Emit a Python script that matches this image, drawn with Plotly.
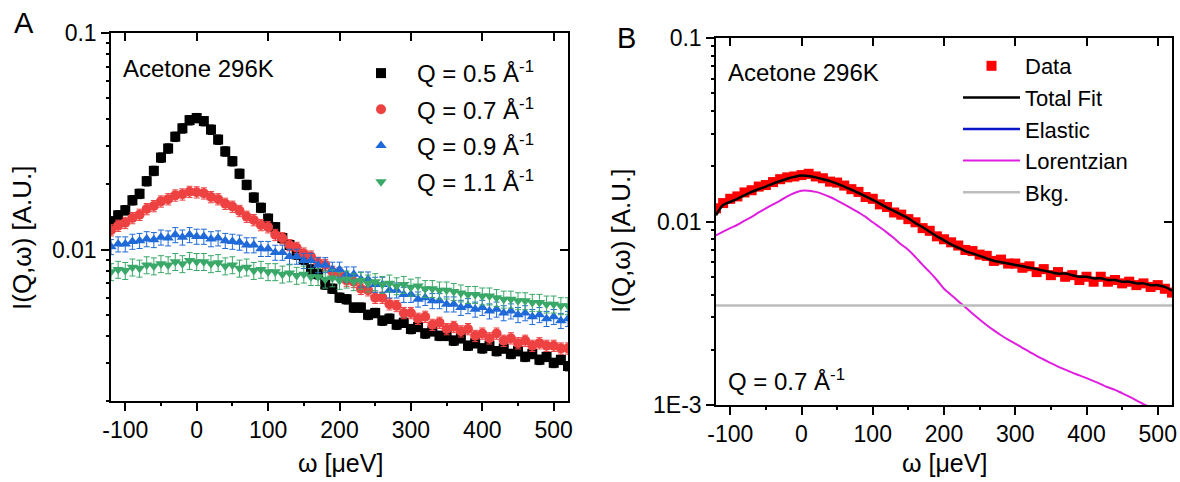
import math
import plotly.graph_objects as go

# ---------------- data ----------------
omega = [-120, -110, -100, -90, -80, -70, -60, -50, -40, -30,
         -20, -10, 0, 10, 20, 30, 40, 50, 60, 70,
         80, 90, 100, 110, 120, 130, 140, 150, 160, 170,
         180, 190, 200, 210, 220, 230, 240, 250, 260, 270,
         280, 290, 300, 310, 320, 330, 340, 350, 360, 370,
         380, 390, 400, 410, 420, 430, 440, 450, 460, 470,
         480, 490, 500, 510, 520]

# Panel A: I(Q,w) for several Q
q05 = [0.0135, 0.0144, 0.0152, 0.0169, 0.0181, 0.0207, 0.0231, 0.0266, 0.0293, 0.0332,
       0.0363, 0.0396, 0.0405, 0.0392, 0.0358, 0.0322, 0.0284, 0.0256, 0.0224, 0.0199,
       0.0174, 0.0156, 0.0139, 0.0127, 0.0113, 0.0105, 0.0095, 0.0090, 0.0081, 0.0077,
       0.0069, 0.0066, 0.0060, 0.0059, 0.0054, 0.0054, 0.0050, 0.0051, 0.0047, 0.0048,
       0.0045, 0.0046, 0.0043, 0.0044, 0.0041, 0.0042, 0.0040, 0.0040, 0.0038, 0.0039,
       0.0036, 0.0037, 0.0035, 0.0036, 0.0034, 0.0035, 0.0033, 0.0034, 0.0032, 0.0033,
       0.0031, 0.0032, 0.0030, 0.0031, 0.0029]
q07 = [0.0123, 0.0129, 0.0133, 0.0140, 0.0145, 0.0154, 0.0159, 0.0167, 0.0171, 0.0178,
       0.0180, 0.0185, 0.0184, 0.0182, 0.0175, 0.0171, 0.0163, 0.0158, 0.0151, 0.0142,
       0.0137, 0.0130, 0.0127, 0.0117, 0.0113, 0.0105, 0.0102, 0.0096, 0.0093, 0.0087,
       0.0085, 0.0079, 0.0078, 0.0072, 0.0071, 0.0066, 0.0065, 0.0060, 0.0060, 0.0056,
       0.0055, 0.0051, 0.0051, 0.0048, 0.0049, 0.0045, 0.0046, 0.0043, 0.0044, 0.0042,
       0.0043, 0.0040, 0.0041, 0.0039, 0.0041, 0.0038, 0.0039, 0.0037, 0.0038, 0.0036,
       0.0037, 0.0036, 0.0036, 0.0035, 0.0035]
q09 = [0.0103, 0.0106, 0.0106, 0.0109, 0.0110, 0.0112, 0.0111, 0.0114, 0.0113, 0.0117,
       0.0114, 0.0117, 0.0115, 0.0115, 0.0112, 0.0113, 0.0110, 0.0109, 0.0108, 0.0105,
       0.0105, 0.0101, 0.0101, 0.0097, 0.0097, 0.0093, 0.0093, 0.0089, 0.0089, 0.0085,
       0.0085, 0.0081, 0.0081, 0.0077, 0.0077, 0.0073, 0.0073, 0.0069, 0.0069, 0.0065,
       0.0065, 0.0062, 0.0062, 0.0059, 0.0060, 0.0058, 0.0058, 0.0056, 0.0056, 0.0054,
       0.0055, 0.0053, 0.0054, 0.0052, 0.0053, 0.0051, 0.0052, 0.0050, 0.0051, 0.0049,
       0.0050, 0.0048, 0.0049, 0.0047, 0.0048]
q11 = [0.0079, 0.0081, 0.0080, 0.0083, 0.0082, 0.0085, 0.0084, 0.0086, 0.0085, 0.0088,
       0.0086, 0.0089, 0.0088, 0.0088, 0.0086, 0.0087, 0.0084, 0.0085, 0.0082, 0.0083,
       0.0080, 0.0081, 0.0079, 0.0079, 0.0077, 0.0078, 0.0076, 0.0077, 0.0075, 0.0075,
       0.0073, 0.0074, 0.0072, 0.0073, 0.0071, 0.0072, 0.0070, 0.0071, 0.0069, 0.0070,
       0.0068, 0.0069, 0.0067, 0.0068, 0.0066, 0.0066, 0.0065, 0.0065, 0.0064, 0.0063,
       0.0062, 0.0062, 0.0061, 0.0061, 0.0060, 0.0059, 0.0059, 0.0058, 0.0058, 0.0057,
       0.0057, 0.0056, 0.0056, 0.0055, 0.0055]
series_names_A = ["Q = 0.5 Å<sup>-1</sup>", "Q = 0.7 Å<sup>-1</sup>",
                  "Q = 0.9 Å<sup>-1</sup>", "Q = 1.1 Å<sup>-1</sup>"]
error_pct_A = [5, 6, 8, 9]

# Panel B: Q = 0.7 fit
data_B = [0.0118, 0.0126, 0.0133, 0.0137, 0.0144, 0.0148, 0.0155, 0.0158, 0.0164, 0.0170,
          0.0174, 0.0176, 0.0179, 0.0182, 0.0176, 0.0172, 0.0165, 0.0163, 0.0157, 0.0150,
          0.0145, 0.0136, 0.0133, 0.0124, 0.0120, 0.0112, 0.0109, 0.0103, 0.0099, 0.0092,
          0.0089, 0.0083, 0.0080, 0.0077, 0.0074, 0.0070, 0.0069, 0.0066, 0.0065, 0.0061,
          0.0062, 0.0059, 0.0059, 0.0056, 0.0057, 0.0053, 0.0055, 0.0051, 0.0053, 0.0050,
          0.0051, 0.0048, 0.0050, 0.0047, 0.0050, 0.0047, 0.0048, 0.0046, 0.0047, 0.0045,
          0.0046, 0.0044, 0.0045, 0.0043, 0.0041]
total_fit = [0.0108, 0.0123, 0.0128, 0.0133, 0.0139, 0.0145, 0.0150, 0.0155, 0.0161, 0.0166,
             0.0171, 0.0175, 0.0178, 0.0177, 0.0174, 0.0170, 0.0166, 0.0161, 0.0155, 0.0149,
             0.0143, 0.0137, 0.0131, 0.0125, 0.0119, 0.0114, 0.0109, 0.0104, 0.0098, 0.0093,
             0.0088, 0.0083, 0.0079, 0.0075, 0.0072, 0.0069, 0.0067, 0.0065, 0.0063, 0.0061,
             0.0060, 0.0059, 0.0058, 0.0057, 0.0056, 0.0055, 0.0054, 0.0053, 0.0052, 0.0052,
             0.0051, 0.0050, 0.0050, 0.0049, 0.0049, 0.0048, 0.0048, 0.0047, 0.0047, 0.0046,
             0.0046, 0.0045, 0.0045, 0.0044, 0.0042]
lorentzian = [0.0084, 0.0088, 0.0092, 0.0096, 0.0101, 0.0106, 0.0112, 0.0118, 0.0124, 0.0130,
              0.0137, 0.0143, 0.0147, 0.0147, 0.0145, 0.0141, 0.0136, 0.0130, 0.0124, 0.0118,
              0.0112, 0.0106, 0.0099, 0.0093, 0.0087, 0.0081, 0.0075, 0.0070, 0.0064, 0.0058,
              0.0053, 0.0048, 0.0043, 0.00398, 0.00368, 0.00341, 0.00315, 0.00292, 0.00272, 0.00255,
              0.00240, 0.00227, 0.00216, 0.00205, 0.00195, 0.00185, 0.00177, 0.00169, 0.00162, 0.00156,
              0.00150, 0.00145, 0.00140, 0.00135, 0.00130, 0.00125, 0.00121, 0.00116, 0.00111, 0.00106,
              0.00101, 0.00097, 0.00093, 0.00089, 0.00086]
edge_omega = [-120, 520]
elastic = [0.00001, 0.00001]
background = [0.00348, 0.00348]

x_ticks = [-100, 0, 100, 200, 300, 400, 500]
x_ticktext = ["-100", "0", "100", "200", "300", "400", "500"]
x_minor = [-50, 50, 150, 250, 350, 450]
y_ticks_A = [0.01, 0.1]
y_ticktext_A = ["0.01", "0.1"]
y_ticks_B = [0.001, 0.01, 0.1]
y_ticktext_B = ["1E-3", "0.01", "0.1"]
y_minor = [0.002, 0.003, 0.004, 0.005, 0.006, 0.007, 0.008, 0.009,
           0.02, 0.03, 0.04, 0.05, 0.06, 0.07, 0.08, 0.09]

# ---------------- figure ----------------
W, H = 1180, 482
FONT = "Liberation Sans, Arial, sans-serif"


def px_x(p):
    return p / W


def px_y(p):
    return 1 - p / H


domA_x = [px_x(111), px_x(568)]
domA_y = [px_y(401), px_y(33)]
domB_x = [px_x(716), px_x(1172)]
domB_y = [px_y(405), px_y(38)]

fig = go.Figure()

colorsA = ["#000000", "#ee4242", "#1f6ad8", "#3aa868"]
symbolsA = ["square", "circle", "triangle-up", "triangle-down"]
for name, vals, col, sym, ep in zip(series_names_A, [q05, q07, q09, q11], colorsA, symbolsA, error_pct_A):
    fig.add_trace(go.Scatter(
        x=omega, y=vals, mode="markers", name=name,
        marker=dict(symbol=sym, size=10, color=col, line=dict(width=0)),
        error_y=dict(type="percent", value=ep, color=col, thickness=1, width=3),
        xaxis="x", yaxis="y", legend="legend", legendgroup=name))

fig.add_trace(go.Scatter(
    x=omega, y=data_B, mode="markers", name="Data",
    marker=dict(symbol="square", size=10, color="#ff0000", line=dict(width=0)),
    error_y=dict(type="percent", value=5, color="#ff0000", thickness=1, width=3),
    xaxis="x2", yaxis="y2", legend="legend2"))
fig.add_trace(go.Scatter(
    x=omega, y=total_fit, mode="lines", name="Total Fit",
    line=dict(color="#000000", width=2.5, shape="spline"),
    xaxis="x2", yaxis="y2", legend="legend2"))
fig.add_trace(go.Scatter(
    x=edge_omega, y=elastic, mode="lines", name="Elastic",
    line=dict(color="#0a14c8", width=2.5),
    xaxis="x2", yaxis="y2", legend="legend2"))
fig.add_trace(go.Scatter(
    x=omega, y=lorentzian, mode="lines", name="Lorentzian",
    line=dict(color="#e01ee0", width=2, shape="spline"),
    xaxis="x2", yaxis="y2", legend="legend2"))
fig.add_trace(go.Scatter(
    x=edge_omega, y=background, mode="lines", name="Bkg.",
    line=dict(color="#bdbdbd", width=2.5),
    xaxis="x2", yaxis="y2", legend="legend2"))

# invisible companions for the frame subplots that carry the minor and top/right ticks
frame_pairs = [("x3", "y3", q05), ("x4", "y4", data_B), ("x5", "y5", q05), ("x6", "y6", data_B)]
for xa, ya, yv in frame_pairs:
    fig.add_trace(go.Scatter(x=omega[:1], y=yv[:1], xaxis=xa, yaxis=ya, mode="markers",
                             marker=dict(opacity=0, size=1), showlegend=False, hoverinfo="skip"))

tickfont = dict(family=FONT, size=23, color="black")
xr = [-120, 520]
rA = [math.log10(0.002), -1]
rB = [-3, -1]


def xaxis(dom, anchor, side="bottom", labels=True, line=True, vals=x_ticks, text=x_ticktext, length=8):
    tdir = "outside" if side == "bottom" else "inside"
    return dict(domain=dom, anchor=anchor, range=xr, autorange=False,
                tickmode="array", tickvals=vals, ticktext=text,
                ticks=tdir, ticklen=length, tickwidth=2, tickcolor="black",
                showline=line, mirror=line, linewidth=1.5, linecolor="black",
                showgrid=False, zeroline=False, tickfont=tickfont, automargin=False,
                showticklabels=labels, side=side, fixedrange=True)


def yaxis(dom, anchor, rng, vals, text, side="left", labels=True, line=True, length=8):
    tdir = "outside" if side == "left" else "inside"
    return dict(domain=dom, anchor=anchor, type="log", range=rng, autorange=False,
                tickmode="array", tickvals=vals, ticktext=text,
                ticks=tdir, ticklen=length, tickwidth=2, tickcolor="black",
                showline=line, mirror=line, linewidth=1.5, linecolor="black",
                showgrid=False, zeroline=False, tickfont=tickfont, automargin=False,
                showticklabels=labels, side=side, fixedrange=True)


blank = [""] * len(y_minor)
blank_x = [""] * len(x_minor)

fig.update_layout(
    width=W, height=H, margin=dict(l=0, r=0, t=0, b=0, pad=0),
    paper_bgcolor="white", plot_bgcolor="rgba(0,0,0,0)",
    font=dict(family=FONT, size=22, color="black"),
    # main axes: labels + outward major ticks
    xaxis=xaxis(domA_x, "y"),
    yaxis=yaxis(domA_y, "x", rA, y_ticks_A, y_ticktext_A),
    xaxis2=xaxis(domB_x, "y2"),
    yaxis2=yaxis(domB_y, "x2", rB, y_ticks_B, y_ticktext_B),
    # frame subplots: inward major ticks on top/right
    xaxis3=xaxis(domA_x, "y3", side="top", labels=False, line=False),
    yaxis3=yaxis(domA_y, "x3", rA, y_ticks_A, y_ticktext_A, side="right", labels=False, line=False),
    xaxis4=xaxis(domB_x, "y4", side="top", labels=False, line=False),
    yaxis4=yaxis(domB_y, "x4", rB, y_ticks_B, y_ticktext_B, side="right", labels=False, line=False),
    # minor-tick subplots (outward bottom/left)
    xaxis5=xaxis(domA_x, "y5", labels=False, line=False, vals=x_minor, text=blank_x, length=4),
    yaxis5=yaxis(domA_y, "x5", rA, y_minor, blank, labels=False, line=False, length=4),
    xaxis6=xaxis(domB_x, "y6", labels=False, line=False, vals=x_minor, text=blank_x, length=4),
    yaxis6=yaxis(domB_y, "x6", rB, y_minor, blank, labels=False, line=False, length=4),
    legend=dict(x=px_x(345), y=px_y(51), xanchor="left", yanchor="top",
                bgcolor="rgba(0,0,0,0)", font=dict(family=FONT, size=24),
                tracegroupgap=2, itemwidth=62),
    legend2=dict(x=px_x(958), y=px_y(45), xanchor="left", yanchor="top",
                 bgcolor="rgba(0,0,0,0)", font=dict(family=FONT, size=22),
                 tracegroupgap=0, itemwidth=57),
    showlegend=True,
)

ann = []


def add_text(text, x, y, size, xanchor="left", angle=0, family=FONT):
    ann.append(dict(text=text, x=px_x(x), y=px_y(y), xref="paper", yref="paper",
                    xanchor=xanchor, yanchor="middle", showarrow=False, textangle=angle,
                    font=dict(family=family, size=size, color="black")))


add_text("A", 12, 23, 29)
add_text("B", 615, 38, 29)
add_text("Acetone 296K", 121, 69, 24)
add_text("Acetone 296K", 726, 72, 24)
add_text("Q = 0.7 Å<sup>-1</sup>", 726, 380, 24)
add_text("I(Q,ω) [A.U.]", 22, 238, 26, xanchor="center", angle=-90)
add_text("I(Q,ω) [A.U.]", 621, 241, 26, xanchor="center", angle=-90)
add_text("ω [μeV]", 340, 463, 25, xanchor="center")
add_text("ω [μeV]", 944, 463, 25, xanchor="center")
fig.update_layout(annotations=ann)

fig.write_html("out.html", config={"displayModeBar": False},
               post_script="document.body.style.margin='0px';document.body.style.overflow='hidden';")
